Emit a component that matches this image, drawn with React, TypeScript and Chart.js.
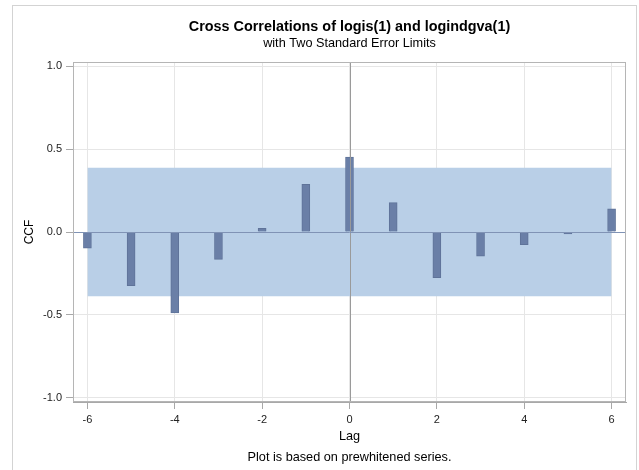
import React, { useEffect, useRef } from "react";
import { Chart, registerables } from "chart.js";

Chart.register(...registerables);

const lags = [-6, -5, -4, -3, -2, -1, 0, 1, 2, 3, 4, 5, 6];
const ccfValues = [-0.098, -0.323, -0.488, -0.165, 0.022, 0.287, 0.452, 0.177, -0.275, -0.146, -0.076, -0.012, 0.14];
const stdErrLimit = 0.387;
const xTickValues = [-6, -4, -2, 0, 2, 4, 6];
const yTickValues = [-1, -0.5, 0, 0.5, 1];
const titleText = "Cross Correlations of logis(1) and logindgva(1)";
const subtitleText = "with Two Standard Error Limits";
const xLabel = "Lag";
const yLabel = "CCF";
const footnoteText = "Plot is based on prewhitened series.";

const FONT = "'Liberation Sans', Arial, sans-serif";

export default function App() {
  const ref = useRef<HTMLCanvasElement | null>(null);

  useEffect(() => {
    const canvas = ref.current;
    if (!canvas) return;
    const first = lags[0];
    const last = lags[lags.length - 1];

    const decor = {
      id: "decor",
      beforeDraw(chart: any) {
        const ctx = chart.ctx;
        ctx.save();
        ctx.fillStyle = "#ffffff";
        ctx.fillRect(0, 0, chart.width, chart.height);
        ctx.strokeStyle = "#d3d3d3";
        ctx.lineWidth = 1;
        ctx.strokeRect(12.5, 5.5, 624, 600);
        ctx.restore();
      },
      afterDatasetsDraw(chart: any) {
        const ctx = chart.ctx;
        const { left, right, top, bottom } = chart.chartArea;
        const xs = chart.scales.x;
        const ys = chart.scales.y;
        ctx.save();
        const x0 = Math.round(xs.getPixelForValue(0)) + 0.5;
        ctx.strokeStyle = "#9a9a9a";
        ctx.lineWidth = 1;
        ctx.beginPath();
        ctx.moveTo(x0, top);
        ctx.lineTo(x0, bottom);
        ctx.stroke();
        const y0 = Math.round(ys.getPixelForValue(0)) + 0.5;
        ctx.strokeStyle = "#8093b5";
        ctx.beginPath();
        ctx.moveTo(left, y0);
        ctx.lineTo(right, y0);
        ctx.stroke();
        ctx.strokeStyle = "#b5b5b5";
        ctx.strokeRect(Math.round(left) + 0.5, Math.round(top) + 0.5, Math.round(right - left) - 1, Math.round(bottom - top) - 1);
        ctx.restore();
      },
      afterDraw(chart: any) {
        const ctx = chart.ctx;
        const { left, right, top, bottom } = chart.chartArea;
        const cx = (left + right) / 2;
        ctx.save();
        ctx.fillStyle = "#000000";
        ctx.textAlign = "center";
        ctx.textBaseline = "middle";
        ctx.font = `bold 14.4px ${FONT}`;
        ctx.fillText(titleText, cx, 27);
        ctx.font = `12.7px ${FONT}`;
        ctx.fillText(subtitleText, cx, 43);
        ctx.fillText(xLabel, cx, 436);
        ctx.fillText(footnoteText, cx, 457);
        ctx.font = `12px ${FONT}`;
        ctx.translate(30, (top + bottom) / 2);
        ctx.rotate(-Math.PI / 2);
        ctx.fillText(yLabel, 0, 0);
        ctx.restore();
      },
    };

    const chart = new Chart(canvas, {
      type: "bar",
      data: {
        datasets: [
          {
            type: "bar",
            label: "CCF",
            data: lags.map((l, i) => ({ x: l, y: ccfValues[i] })),
            backgroundColor: "#6a7fa7",
            borderColor: "#5f7399",
            borderWidth: 1,
            barThickness: 8,
            order: 1,
          } as any,
          {
            type: "line",
            label: "upper",
            data: [{ x: first, y: stdErrLimit }, { x: last, y: stdErrLimit }],
            borderWidth: 0,
            borderColor: "rgba(0,0,0,0)",
            pointRadius: 0,
            fill: false,
            order: 3,
          } as any,
          {
            type: "line",
            label: "lower",
            data: [{ x: first, y: -stdErrLimit }, { x: last, y: -stdErrLimit }],
            borderWidth: 0,
            borderColor: "rgba(0,0,0,0)",
            backgroundColor: "#b9cfe7",
            pointRadius: 0,
            fill: "-1",
            order: 2,
          } as any,
        ],
      },
      options: {
        responsive: false,
        animation: false,
        events: [],
        layout: { padding: { left: 0, right: 13, top: 62, bottom: 0 } },
        plugins: {
          legend: { display: false },
          tooltip: { enabled: false },
          title: { display: false },
          filler: { drawTime: "beforeDatasetDraw" } as any,
        },
        scales: {
          x: {
            type: "linear",
            min: -6.33,
            max: 6.33,
            offset: false,
            afterBuildTicks: (s: any) => {
              s.ticks = xTickValues.map((v) => ({ value: v }));
            },
            afterFit: (s: any) => {
              s.height = 68;
            },
            grid: {
              color: "#e6e6e6",
              tickColor: "#a8a8a8",
              tickLength: 7,
              offset: false,
            },
            border: { color: "#a8a8a8" },
            ticks: {
              color: "#222222",
              font: { family: FONT, size: 11 },
              padding: 4,
              maxRotation: 0,
              callback: (v: any) => String(v),
            },
          },
          y: {
            type: "linear",
            min: -1.025,
            max: 1.025,
            afterBuildTicks: (s: any) => {
              s.ticks = yTickValues.map((v) => ({ value: v }));
            },
            afterFit: (s: any) => {
              s.width = 73;
            },
            grid: {
              color: "#e6e6e6",
              tickColor: "#a8a8a8",
              tickLength: 7,
            },
            border: { color: "#a8a8a8" },
            ticks: {
              color: "#222222",
              font: { family: FONT, size: 11 },
              padding: 4,
              callback: (v: any) => Number(v).toFixed(1),
            },
          },
        },
      },
      plugins: [decor],
    });

    return () => chart.destroy();
  }, []);

  return (
    <div style={{ position: "fixed", left: 0, top: 0, width: 639, height: 470, background: "#fff" }}>
      <canvas ref={ref} width={639} height={470} style={{ width: 639, height: 470, display: "block" }} />
    </div>
  );
}
